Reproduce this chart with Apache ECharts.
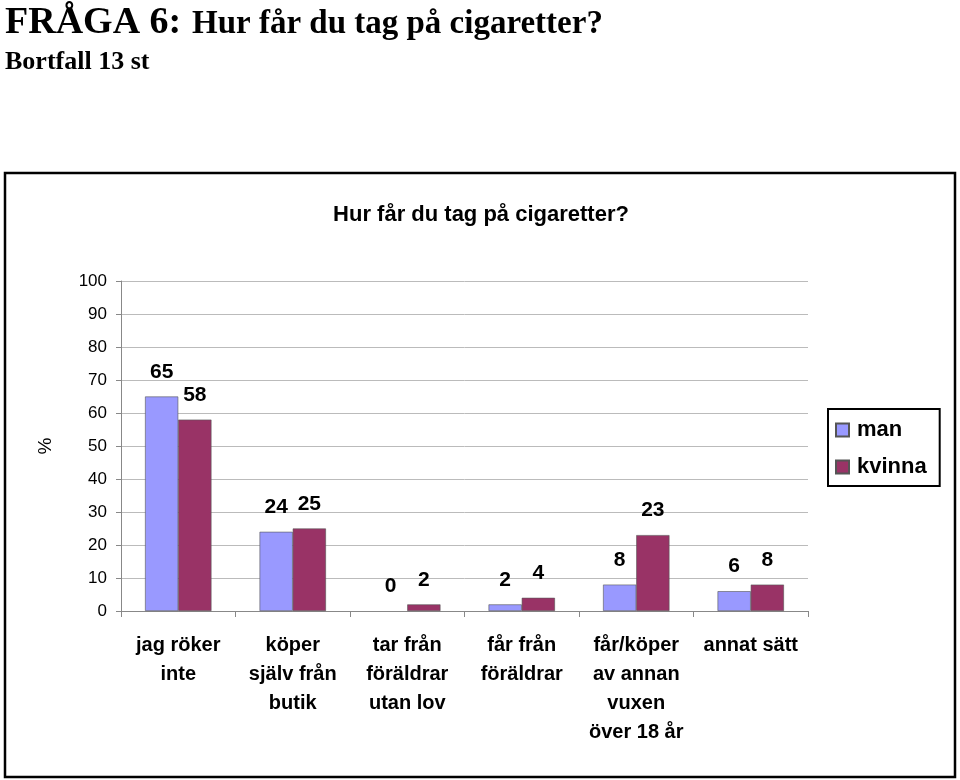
<!DOCTYPE html>
<html>
<head>
<meta charset="utf-8">
<script src="https://cdn.jsdelivr.net/npm/echarts@6/dist/echarts.min.js"></script>
<style>
  html, body { margin: 0; padding: 0; background: #fff; }
  #container { width: 960px; height: 780px; }
</style>
</head>
<body>
<div id="container"></div>
<script>
const container = document.getElementById('container');
const chartIns = echarts.init(container);

// kategorier (radbrytningar som i originalet)
const categories = [
  'jag röker\ninte',
  'köper\nsjälv från\nbutik',
  'tar från\nföräldrar\nutan lov',
  'får från\nföräldrar',
  'får/köper\nav annan\nvuxen\növer 18 år',
  'annat sätt'
];
const seriesNames = ['man', 'kvinna'];
const manValues = [65, 24, 0, 2, 8, 6];
const kvinnaValues = [58, 25, 2, 4, 23, 8];
const yTicks = { min: 0, max: 100, interval: 10 };

const colors = ['#9999FF', '#993366'];
const sans = '"Liberation Sans", Arial, sans-serif';
const serif = '"Liberation Serif", "Times New Roman", serif';

const barLabel = {
  show: true,
  position: 'top',
  distance: 14,
  color: '#000',
  fontFamily: sans,
  fontWeight: 'bold',
  fontSize: 21
};

// nollstaplar ritas utan kantlinje
const toItems = (data) => data.map(v => v === 0 ? { value: v, itemStyle: { borderWidth: 0 } } : v);

const makeBar = (name, data, color) => ({
  name: name,
  type: 'bar',
  data: toItems(data),
  barGap: '0%',
  barCategoryGap: '42%',
  itemStyle: { color: color, borderColor: '#555', borderWidth: 0.6 },
  label: barLabel,
  emphasis: { disabled: true }
});

const option = {
  backgroundColor: '#fff',
  animation: false,
  textStyle: { fontFamily: sans },
  graphic: [
    {
      type: 'rect',
      shape: { x: 5, y: 173, width: 950, height: 604 },
      style: { fill: 'none', stroke: '#000', lineWidth: 2.5 },
      silent: true
    },
    {
      type: 'text',
      left: 5,
      top: 4,
      style: { text: 'FRÅGA 6:', font: 'bold 38px ' + serif, fill: '#000' }
    },
    {
      type: 'text',
      left: 192,
      top: 8,
      style: { text: 'Hur får du tag på cigaretter?', font: 'bold 33px ' + serif, fill: '#000' }
    },
    {
      type: 'text',
      left: 5,
      top: 49,
      style: { text: 'Bortfall 13 st', font: 'bold 26px ' + serif, fill: '#000' }
    }
  ],
  title: {
    text: 'Hur får du tag på cigaretter?',
    left: 476,
    top: 199,
    textAlign: 'center',
    textStyle: { fontFamily: sans, fontWeight: 'bold', fontSize: 22, color: '#000' }
  },
  legend: {
    data: seriesNames,
    orient: 'vertical',
    left: 828,
    top: 409,
    padding: [10, 13, 8, 7],
    itemGap: 15,
    itemWidth: 13,
    itemHeight: 13,
    icon: 'rect',
    borderColor: '#000',
    borderWidth: 2,
    textStyle: { fontFamily: sans, fontWeight: 'bold', fontSize: 22, color: '#000', padding: [0, 0, 0, 3] }
  },
  grid: { left: 121, right: 152, top: 281, bottom: 169, containLabel: false },
  xAxis: {
    type: 'category',
    data: categories,
    axisLine: { lineStyle: { color: '#888' } },
    axisTick: { show: true, alignWithLabel: false, length: 6, lineStyle: { color: '#888' } },
    axisLabel: {
      interval: 0,
      margin: 20,
      color: '#000',
      fontFamily: sans,
      fontWeight: 'bold',
      fontSize: 20,
      lineHeight: 29
    }
  },
  yAxis: {
    type: 'value',
    min: yTicks.min,
    max: yTicks.max,
    interval: yTicks.interval,
    name: '%',
    nameLocation: 'middle',
    nameGap: 66,
    nameTextStyle: { fontFamily: sans, fontSize: 19, color: '#000' },
    axisLine: { show: true, lineStyle: { color: '#888' } },
    axisTick: { show: true, length: 5, lineStyle: { color: '#888' } },
    axisLabel: { color: '#000', fontFamily: sans, fontSize: 17, margin: 14 },
    splitLine: { show: true, lineStyle: { color: '#bbb' } }
  },
  series: [
    makeBar(seriesNames[0], manValues, colors[0]),
    makeBar(seriesNames[1], kvinnaValues, colors[1])
  ]
};

chartIns.setOption(option);
</script>
</body>
</html>
